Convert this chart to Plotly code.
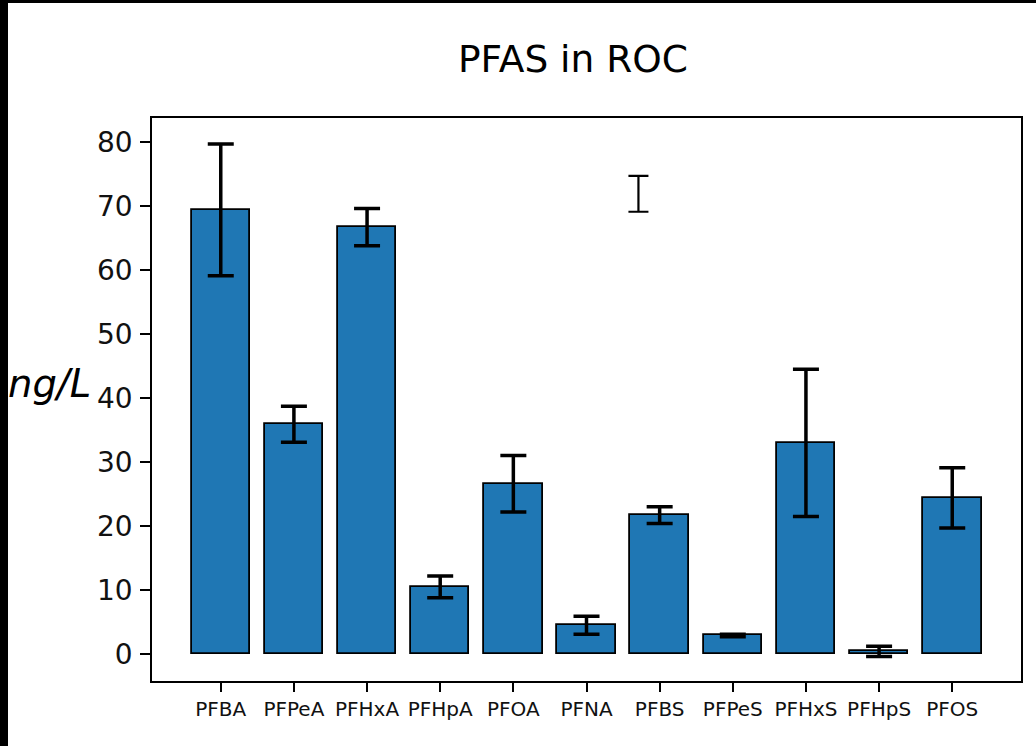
import plotly.graph_objects as go

categories = ["PFBA", "PFPeA", "PFHxA", "PFHpA", "PFOA", "PFNA",
              "PFBS", "PFPeS", "PFHxS", "PFHpS", "PFOS"]
values = [69.4, 35.9, 66.7, 10.5, 26.6, 4.5, 21.7, 2.9, 33.0, 0.4, 24.4]
errors = [10.3, 2.8, 2.9, 1.7, 4.4, 1.4, 1.3, 0.2, 11.5, 0.8, 4.7]

# stray error-bar glyph floating in the plot area
stray_x = [5.71]
stray_y = [71.9]
stray_err = [2.8]

title_text = "PFAS in ROC"
ylabel_text = "ng/L"
y_ticks = [0, 10, 20, 30, 40, 50, 60, 70, 80]

W, H = 1036, 746
L, R, T, B = 152, 15, 118, 65
pw, ph = W - L - R, H - T - B

FONT = "DejaVu Sans"
x_pos = list(range(len(categories)))

fig = go.Figure()
fig.add_trace(go.Bar(
    x=x_pos, y=values, width=0.8,
    marker=dict(color="#1f77b4", line=dict(color="black", width=1.8)),
    error_y=dict(type="data", array=errors, visible=True,
                 color="black", thickness=3.5, width=13),
    showlegend=False,
))
fig.add_trace(go.Scatter(
    x=stray_x, y=stray_y, mode="markers",
    marker=dict(size=1, color="rgba(0,0,0,0)"),
    error_y=dict(type="data", array=stray_err, visible=True,
                 color="black", thickness=2.2, width=10),
    showlegend=False, hoverinfo="skip",
))

fig.update_layout(
    width=W, height=H,
    margin=dict(l=L, r=R, t=T, b=B, pad=0),
    paper_bgcolor="white", plot_bgcolor="white",
    font=dict(family=FONT, color="black"),
    title=dict(text=title_text, x=573 / W, xanchor="center",
               y=1 - 59 / H, yanchor="middle",
               font=dict(size=37.5, family=FONT, color="black")),
    xaxis=dict(range=[-0.94, 10.94], tickmode="array", tickvals=x_pos,
               ticktext=categories, ticks="outside", ticklen=9, tickwidth=1.5,
               tickcolor="black", showline=True, linecolor="black", linewidth=1.5,
               mirror=True, showgrid=False, zeroline=False,
               tickfont=dict(size=20, family=FONT, color="#111")),
    yaxis=dict(range=[-4.22, 83.75], tickmode="array", tickvals=y_ticks,
               ticks="outside", ticklen=10, tickwidth=1.5, tickcolor="black",
               showline=True, linecolor="black", linewidth=1.5, mirror=True,
               showgrid=False, zeroline=False, ticklabelstandoff=2,
               tickfont=dict(size=28, family=FONT, color="#111")),
    bargap=0,
)

fig.add_annotation(
    text="<i>" + ylabel_text + "</i>", xref="paper", yref="paper",
    x=(93 - L) / pw, y=(H - B - 383) / ph, xanchor="right", yanchor="middle",
    showarrow=False, font=dict(size=38.5, family=FONT, color="black"),
)

# black frame strips at the left and top edges of the image
fig.add_shape(type="rect", xref="paper", yref="paper",
              x0=-L / pw, x1=(8 - L) / pw, y0=-B / ph, y1=(H - B) / ph,
              fillcolor="black", line=dict(width=0), layer="above")
fig.add_shape(type="rect", xref="paper", yref="paper",
              x0=-L / pw, x1=(W - L) / pw, y0=(H - B - 3) / ph, y1=(H - B) / ph,
              fillcolor="black", line=dict(width=0), layer="above")

fig.write_html("out.html")
